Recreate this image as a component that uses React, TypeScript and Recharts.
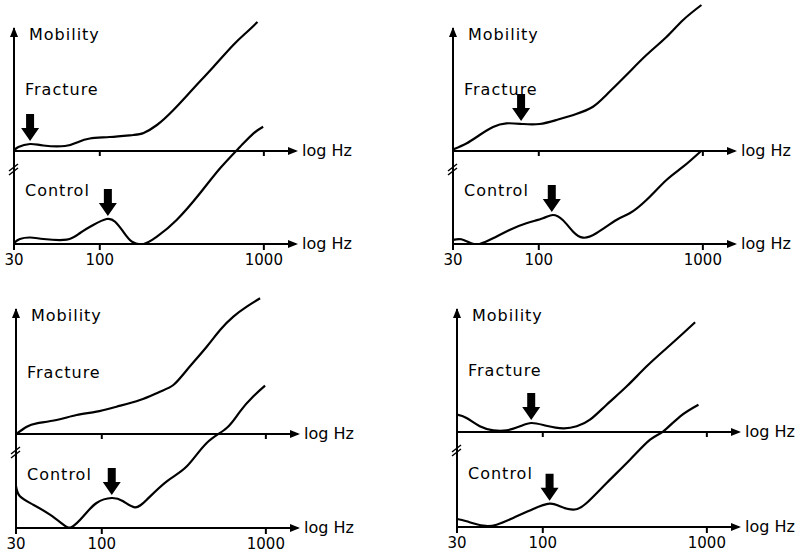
import React from 'react';
import { LineChart, Line, XAxis, YAxis, ReferenceLine, ReferenceDot } from 'recharts';

const FONT = '"DejaVu Sans", Verdana, sans-serif';
const X_TICKS = [30, 100, 1000];
const X_MIN = 30;
const X_MAX = 1570;
const AXIS_UNIT = 'log Hz';
const Y_TITLE = 'Mobility';
const FRACTURE_NAME = 'Fracture';
const CONTROL_NAME = 'Control';

// Panel A (top left)
const A_FRACTURE_HZ = [30, 31.9, 37.6, 45.3, 61.4, 74, 87, 115, 160, 185, 223, 281, 372, 492, 651, 789, 915];
const A_FRACTURE = [0, 4, 7, 5.5, 5, 9, 12.5, 14, 16, 18, 26, 41, 62.5, 84, 106, 119, 129];
const A_CONTROL_HZ = [30, 32.6, 37.6, 45.3, 62.9, 75.8, 91.2, 110, 124, 139, 157, 185, 223, 294, 408, 541, 717, 865, 990];
const A_CONTROL = [1, 5, 6.5, 5, 4.3, 11, 19, 25, 22.3, 12.3, 2.3, 0, 7.3, 24, 50.7, 75.7, 97.3, 110.7, 117.3];
const A_FRACTURE_PEAK = [37.6, 7];
const A_CONTROL_PEAK = [112, 25];

// Panel B (top right)
const B_FRACTURE_HZ = [30, 36.2, 43.6, 52.6, 63.4, 80.2, 101, 128, 169, 214, 258, 342, 453, 600, 758, 980];
const B_FRACTURE = [1.5, 7.5, 16, 24, 27.7, 27, 27, 31, 37, 44.3, 56, 76, 96, 114, 131, 146];
const B_CONTROL_HZ = [30, 33.7, 38.7, 43.6, 52.6, 66.3, 84, 106, 122, 140, 162, 186, 224, 297, 358, 453, 600, 758, 980];
const B_CONTROL = [4, 4.7, 0.7, 0, 5.7, 14, 20.7, 25.7, 29, 24, 12.3, 6.3, 10.7, 24, 30.7, 44, 64, 77.3, 93.3];
const B_FRACTURE_PEAK = [78, 27];
const B_CONTROL_PEAK = [120, 29];

// Panel C (bottom left)
const C_FRACTURE_HZ = [30, 34.9, 40.1, 53, 70.2, 92.9, 123, 171, 226, 273, 330, 436, 526, 634, 765, 922];
const C_FRACTURE = [0, 7.3, 10.7, 14, 19, 22.3, 27.3, 34, 42.3, 49, 64, 87.3, 104, 117.3, 127.3, 135.7];
const C_CONTROL_HZ = [30, 31.7, 38.2, 48.3, 58.3, 65.6, 77.2, 92.9, 115, 135, 159, 188, 249, 330, 436, 577, 697, 840, 989];
const C_CONTROL = [41.7, 31.7, 23.3, 13.3, 3.3, 1, 11.7, 25, 30, 26.7, 20.7, 28.3, 46.7, 61.7, 85, 100, 116.7, 131.7, 142.3];
const C_CONTROL_PEAK = [115, 30];

// Panel D (bottom right)
const D_FRACTURE_HZ = [30, 34.3, 41.3, 49.9, 60.3, 72.7, 85.4, 105, 133, 161, 194, 245, 325, 430, 570, 720, 848];
const D_FRACTURE = [17.3, 14, 5.7, 1.7, 1.7, 5.7, 9, 6.3, 3.7, 5.7, 12.3, 27.3, 45.7, 65.7, 84, 99, 109.7];
const D_CONTROL_HZ = [30, 34.3, 43.3, 52.3, 66, 87.4, 110, 127, 154, 185, 245, 340, 451, 543, 688, 889];
const D_CONTROL = [8, 5.7, 1.3, 2.3, 9, 18, 23.3, 20.7, 17.3, 24, 44, 67.3, 87.3, 95.7, 110.7, 122.3];
const D_FRACTURE_PEAK = [85, 9];
const D_CONTROL_PEAK = [110, 23.3];

const PH = 246;
const ML = 14;
const PW = 282;
const MR = 66;
const MT = 4;
const XH = 30;

const zip = (hz: number[], v: number[]) => hz.map((h, i) => ({ hz: h, v: v[i] }));

const downArrow = (p: any) => {
  const cx = p.cx;
  const tip = p.cy - 3;
  const headTop = tip - 13;
  const top = tip - 27;
  const pts = [
    [cx - 4, top], [cx + 4, top], [cx + 4, headTop], [cx + 9, headTop],
    [cx, tip], [cx - 9, headTop], [cx - 4, headTop],
  ].map((q) => q.join(',')).join(' ');
  return <polygon points={pts} fill="#000" />;
};

const upHead = (p: any) => (
  <polygon points={`${p.cx - 4},${p.cy + 9} ${p.cx},${p.cy - 1} ${p.cx + 4},${p.cy + 9}`} fill="#000" />
);

const rightHead = (p: any) => (
  <g>
    <polygon points={`${p.cx - 8},${p.cy - 4} ${p.cx + 2},${p.cy} ${p.cx - 8},${p.cy + 4}`} fill="#000" />
    <text x={p.cx + 6} y={p.cy + 5} fontSize={16} fontFamily={FONT} fill="#000">{AXIS_UNIT}</text>
  </g>
);

const smallTick = (p: any) => (
  <line x1={p.cx} y1={p.cy} x2={p.cx} y2={p.cy + 5} stroke="#000" strokeWidth={2} />
);

const breakMark = (p: any) => (
  <g stroke="#000" strokeWidth={1.5}>
    <line x1={p.cx - 5} y1={p.cy + 1} x2={p.cx + 4} y2={p.cy - 6} />
    <line x1={p.cx - 5} y1={p.cy + 5} x2={p.cx + 4} y2={p.cy - 2} />
  </g>
);

const textAt = (label: string, dx: number, dy: number) => (p: any) => (
  <text x={p.cx + dx} y={p.cy + dy} fontSize={16} fontFamily={FONT} letterSpacing={1} fill="#000">{label}</text>
);

type PanelProps = {
  x0: number; yC: number; gap: number; top: number;
  fracHz: number[]; frac: number[]; ctrlHz: number[]; ctrl: number[];
  fracPeak?: number[]; ctrlPeak?: number[];
};

function Panel({ x0, yC, gap, top, fracHz, frac, ctrlHz, ctrl, fracPeak, ctrlPeak }: PanelProps) {
  const fracData = zip(fracHz, frac);
  const ctrlData = zip(ctrlHz, ctrl);
  return (
    <div style={{ position: 'absolute', left: x0 - ML, top: yC - PH - MT }}>
      <LineChart width={ML + PW + MR} height={MT + PH + XH} margin={{ top: MT, right: MR, bottom: 0, left: ML }}>
        <XAxis
          xAxisId="x"
          type="number"
          dataKey="hz"
          scale="log"
          domain={[X_MIN, X_MAX]}
          allowDataOverflow
          ticks={X_TICKS}
          interval={0}
          height={XH}
          axisLine={{ stroke: '#000', strokeWidth: 2 }}
          tickLine={{ stroke: '#000', strokeWidth: 2 }}
          tickSize={6}
          tickMargin={4}
          tick={{ fill: '#000', fontSize: 15, fontFamily: FONT }}
        />
        <YAxis yAxisId="ctrl" hide type="number" domain={[0, PH]} allowDataOverflow />
        <YAxis yAxisId="frac" hide type="number" domain={[-gap, PH - gap]} allowDataOverflow />
        <ReferenceLine xAxisId="x" yAxisId="frac" y={0} stroke="#000" strokeWidth={2} />
        <ReferenceLine xAxisId="x" yAxisId="frac" segment={[{ x: X_MIN, y: top }, { x: X_MIN, y: -gap }]} stroke="#000" strokeWidth={2} />
        <Line xAxisId="x" yAxisId="frac" data={fracData} dataKey="v" type="natural" stroke="#000" strokeWidth={2.2} dot={false} isAnimationActive={false} />
        <Line xAxisId="x" yAxisId="ctrl" data={ctrlData} dataKey="v" type="natural" stroke="#000" strokeWidth={2.2} dot={false} isAnimationActive={false} />
        <ReferenceDot xAxisId="x" yAxisId="frac" x={X_MIN} y={top} ifOverflow="visible" shape={upHead} />
        <ReferenceDot xAxisId="x" yAxisId="frac" x={X_MAX} y={0} ifOverflow="visible" shape={rightHead} />
        <ReferenceDot xAxisId="x" yAxisId="ctrl" x={X_MAX} y={0} ifOverflow="visible" shape={rightHead} />
        <ReferenceDot xAxisId="x" yAxisId="frac" x={100} y={0} ifOverflow="visible" shape={smallTick} />
        <ReferenceDot xAxisId="x" yAxisId="frac" x={1000} y={0} ifOverflow="visible" shape={smallTick} />
        <ReferenceDot xAxisId="x" yAxisId="frac" x={X_MIN} y={-19} ifOverflow="visible" shape={breakMark} />
        <ReferenceDot xAxisId="x" yAxisId="frac" x={X_MIN} y={top} ifOverflow="visible" shape={textAt(Y_TITLE, 15, 12)} />
        <ReferenceDot xAxisId="x" yAxisId="frac" x={X_MIN} y={0} ifOverflow="visible" shape={textAt(FRACTURE_NAME, 11, -56)} />
        <ReferenceDot xAxisId="x" yAxisId="ctrl" x={X_MIN} y={0} ifOverflow="visible" shape={textAt(CONTROL_NAME, 11, -48)} />
        {fracPeak && (
          <ReferenceDot xAxisId="x" yAxisId="frac" x={fracPeak[0]} y={fracPeak[1]} ifOverflow="visible" shape={downArrow} />
        )}
        {ctrlPeak && (
          <ReferenceDot xAxisId="x" yAxisId="ctrl" x={ctrlPeak[0]} y={ctrlPeak[1]} ifOverflow="visible" shape={downArrow} />
        )}
      </LineChart>
    </div>
  );
}

export default function App() {
  return (
    <div style={{ position: 'absolute', left: 0, top: 0, width: 798, height: 559, overflow: 'hidden', background: '#fff', fontFamily: FONT }}>
      <Panel x0={14} yC={244} gap={93} top={123} fracHz={A_FRACTURE_HZ} frac={A_FRACTURE} ctrlHz={A_CONTROL_HZ} ctrl={A_CONTROL} fracPeak={A_FRACTURE_PEAK} ctrlPeak={A_CONTROL_PEAK} />
      <Panel x0={453} yC={244} gap={93} top={123} fracHz={B_FRACTURE_HZ} frac={B_FRACTURE} ctrlHz={B_CONTROL_HZ} ctrl={B_CONTROL} fracPeak={B_FRACTURE_PEAK} ctrlPeak={B_CONTROL_PEAK} />
      <Panel x0={16} yC={528} gap={94} top={125} fracHz={C_FRACTURE_HZ} frac={C_FRACTURE} ctrlHz={C_CONTROL_HZ} ctrl={C_CONTROL} ctrlPeak={C_CONTROL_PEAK} />
      <Panel x0={457} yC={527} gap={95} top={123} fracHz={D_FRACTURE_HZ} frac={D_FRACTURE} ctrlHz={D_CONTROL_HZ} ctrl={D_CONTROL} fracPeak={D_FRACTURE_PEAK} ctrlPeak={D_CONTROL_PEAK} />
    </div>
  );
}
